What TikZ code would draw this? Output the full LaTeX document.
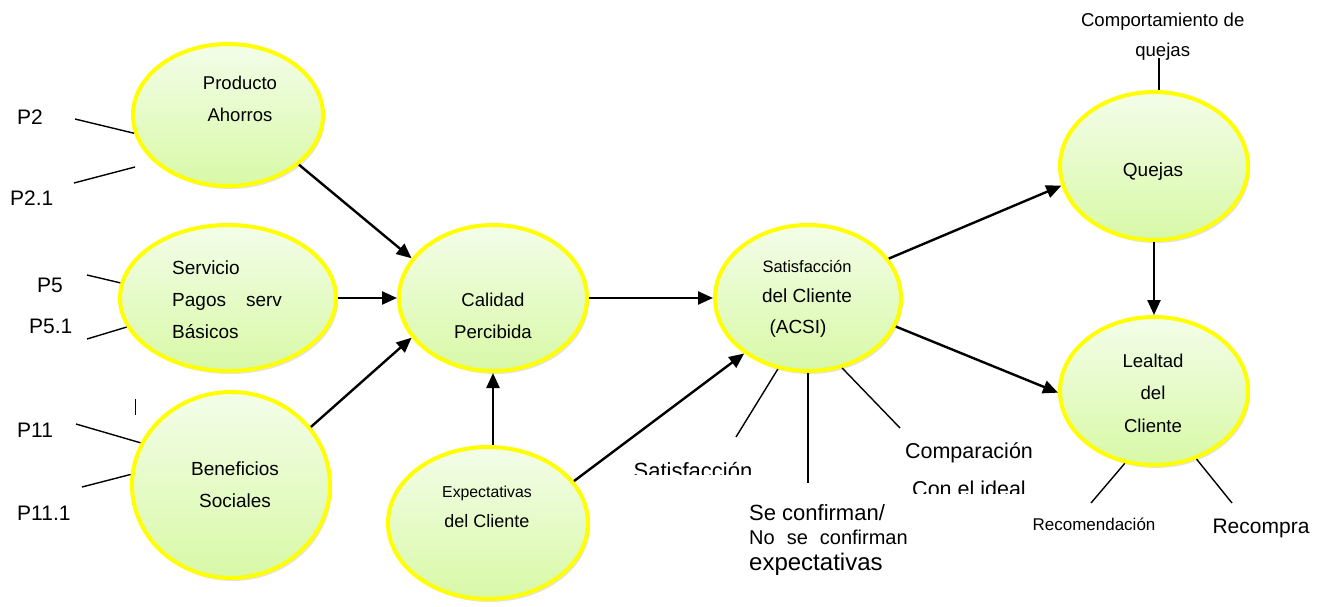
\documentclass[tikz,border=0pt]{standalone}
\usepackage{fontspec}
\setmainfont{Liberation Sans}
\usetikzlibrary{shapes.geometric,arrows.meta,shadows}
\newcommand\fsz[1]{\fontsize{#1}{#1}\selectfont}
\definecolor{blobtop}{HTML}{F3FDE9}
\definecolor{blobbot}{HTML}{D8F9A6}
\definecolor{blobrim}{HTML}{FFFF00}
\begin{document}
\begin{tikzpicture}[x=1pt,y=-1pt,
  blob/.style={ellipse, draw=blobrim, line width=4pt, top color=blobtop, bottom color=blobbot,
    inner sep=0pt, drop shadow={opacity=0.22, shadow xshift=2pt, shadow yshift=-3pt}},
  lbl/.style={anchor=base, inner sep=0pt},
  lblw/.style={anchor=base west, inner sep=0pt},
  arr/.style={-{Triangle[length=15pt,width=13pt]}, line width=2.4pt},
  ln/.style={line width=1.4pt}]
\useasboundingbox (0,0) rectangle (1325,607);

% constructs
\node[blob, minimum width=190pt, minimum height=142pt] (prod) at (228,115) {};
\node[blob, minimum width=216pt, minimum height=146pt] (serv) at (228,298) {};
\node[blob, minimum width=198pt, minimum height=186pt] (bene) at (231,485) {};
\node[blob, minimum width=188pt, minimum height=146pt] (cal)  at (493,298) {};
\node[blob, minimum width=200pt, minimum height=152pt] (expc) at (488,523) {};
\node[blob, minimum width=186pt, minimum height=146pt] (sat)  at (808,298) {};
\node[blob, minimum width=188pt, minimum height=148pt] (quej) at (1154,166) {};
\node[blob, minimum width=188pt, minimum height=148pt] (leal) at (1154,391) {};

% texts inside the constructs
\node[lbl] (tprod1) at (240,90) {\fsz{18.5}Producto};
\node[lbl] (tprod2) at (240,121.7) {\fsz{18.5}Ahorros};
\node[lblw] (tserv1) at (172,274.3) {\fsz{19}Servicio};
\node[lblw] (tserv2) at (172,306) {\fsz{19}Pagos\hspace{20pt}serv};
\node[lblw] (tserv3) at (172,338.3) {\fsz{19}Básicos};
\node[lbl] (tbene1) at (235,475.7) {\fsz{19}Beneficios};
\node[lbl] (tbene2) at (235,507.3) {\fsz{19}Sociales};
\node[lbl] (tcal1) at (493,306.7) {\fsz{18.6}Calidad};
\node[lbl] (tcal2) at (493,338.3) {\fsz{18.6}Percibida};
\node[lbl] (texp1) at (487,497.3) {\fsz{15.8}Expectativas};
\node[lbl] (texp2) at (487,527.3) {\fsz{18}del Cliente};
\node[lbl] (tsat1) at (807,272.7) {\fsz{16.5}Satisfacción};
\node[lbl] (tsat2) at (807,302.7) {\fsz{19}del Cliente};
\node[lbl] (tsat3) at (798,333.3) {\fsz{19}(ACSI)};
\node[lbl] (tquej) at (1153,176.7) {\fsz{19}Quejas};
\node[lbl] (tleal1) at (1153,367.3) {\fsz{18.6}Lealtad};
\node[lbl] (tleal2) at (1153,399.3) {\fsz{18.6}del};
\node[lbl] (tleal3) at (1153,432.3) {\fsz{18.6}Cliente};

% indicator labels
\node[lblw] (p2)   at (17,125)   {\fsz{21}P2};
\node[lblw] (p21)  at (10,205.7) {\fsz{21}P2.1};
\node[lblw] (p5)   at (37,292.7) {\fsz{21}P5};
\node[lblw] (p51)  at (29,333.3) {\fsz{21}P5.1};
\node[lblw] (p11)  at (17,437.7) {\fsz{21}P11};
\node[lblw] (p111) at (17,520)   {\fsz{21}P11.1};

\node[lbl] (comp1) at (1162.7,26.7) {\fsz{18.6}Comportamiento de};
\node[lbl] (comp2) at (1162.7,57)   {\fsz{18.6}quejas};
\node[lbl] (recom) at (1094,530.7) {\fsz{17}Recomendación};
\node[lbl] (recmp) at (1261,533.3) {\fsz{21}Recompra};
\node[lbl] (cmpi)  at (969,458.3)  {\fsz{21.5}Comparación};
\node[lblw] (conf1) at (749,520) {\fsz{22}Se confirman/};
\node[lblw] (conf2) at (749,544) {\fsz{20}No\hspace{12pt}se\hspace{12pt}confirman};
\node[lblw] (conf3) at (749,570) {\fsz{24}expectativas};

% partly hidden labels
\begin{scope}
  \clip (600,440) rectangle (800,474);
  \node[lbl] (tsatlow) at (693,478) {\fsz{22}Satisfacción};
\end{scope}
\begin{scope}
  \clip (880,470) rectangle (1060,493);
  \node[lbl] (tideal) at (969,496) {\fsz{21.5}Con el ideal};
\end{scope}

% structural paths
\draw[arr] (prod.-35.5) -- (cal.154);
\draw[arr] (serv.east) -- (cal.west);
\draw[arr] (bene.36) -- (cal.-154.6);
\draw[arr] (cal.south |- expc.north) -- (cal.south);
\draw[arr] (cal.east) -- (sat.west);
\draw[arr] (expc.26) -- (sat.-139);
\draw[arr] (sat.26) -- (quej.192.5);
\draw[arr] (sat.-18) -- (leal.181);
\draw[arr] (quej.south) -- (leal.north);

% indicator lines
\coordinate (l2a) at (75,119);
\draw[ln] (l2a) -- (prod.191.5);
\coordinate (l21a) at (74,183);
\coordinate (l21b) at (135,167);
\draw[ln] (l21a) -- (l21b);
\coordinate (l5a) at (87,275);
\draw[ln] (l5a) -- (serv.172);
\coordinate (l51a) at (87,339);
\draw[ln] (l51a) -- (serv.196);
\coordinate (tka) at (135,399);
\coordinate (tkb) at (135,415);
\draw[line width=1pt] (tka) -- (tkb);
\coordinate (l11a) at (76,424);
\draw[ln] (l11a) -- (bene.155);
\coordinate (l111a) at (82,487);
\draw[ln] (l111a) -- (bene.174);

\coordinate (s1) at (736,437);
\draw[ln] (sat.-113) -- (s1);
\coordinate (s2) at (808,483);
\draw[line width=2.8pt] (sat.south) -- (s2);
\coordinate (s3) at (900,428);
\draw[ln] (sat.-64) -- (s3);

\coordinate (r1) at (1091,503);
\draw[ln] (leal.-112) -- (r1);
\coordinate (r2) at (1232,503);
\draw[ln] (leal.-58) -- (r2);

\coordinate (q0) at (1159,58);
\draw[line width=1.8pt] (q0) -- (q0 |- quej.north);
\end{tikzpicture}
\end{document}
